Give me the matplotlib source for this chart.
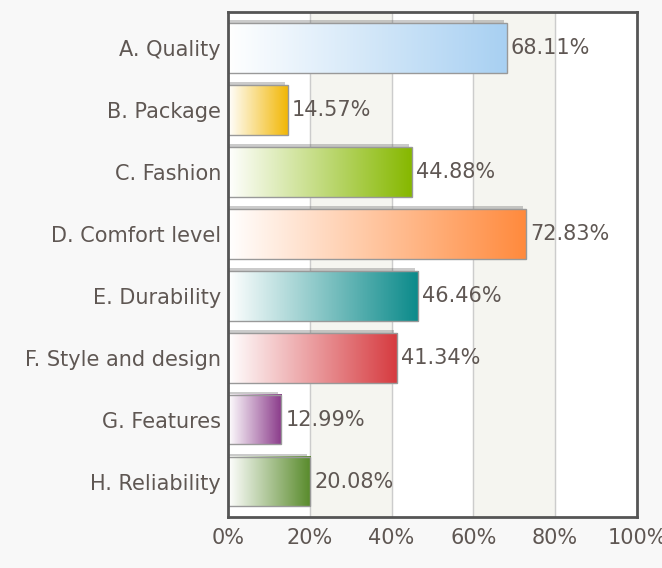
import numpy as np
import matplotlib
matplotlib.use("Agg")
import matplotlib.pyplot as plt
import matplotlib.patheffects as pe
from matplotlib.colors import LinearSegmentedColormap
from matplotlib.patches import Rectangle

# ---------------------------
# Data
# ---------------------------
categories = ["A. Quality", "B. Package", "C. Fashion", "D. Comfort level",
              "E. Durability", "F. Style and design", "G. Features", "H. Reliability"]
values = [68.11, 14.57, 44.88, 72.83, 46.46, 41.34, 12.99, 20.08]
end_colors = ["#a8d0f2", "#f2b705", "#86b800", "#ff8a3d",
              "#0a8a8a", "#d63a3f", "#8a3a8a", "#588a2a"]
xticks = [0, 20, 40, 60, 80, 100]

text_color = "#5f5753"
fsize = 15
bar_h = 0.8

# ---------------------------
# Figure
# ---------------------------
fig = plt.figure(figsize=(6.62, 5.68), dpi=100, facecolor="#f8f8f8")
ax = fig.add_axes([0.3444, 0.0898, 0.6178, 0.8891])
ax.set_facecolor("white")

# alternating bands + grid
for x0 in (20, 60):
    ax.axvspan(x0, x0 + 20, color="#f5f5f0", zorder=0)
for x in xticks[1:-1]:
    ax.axvline(x, color="#cccccc", lw=1, zorder=1)

gradient = np.linspace(0, 1, 256).reshape(1, -1)
for i, (v, c) in enumerate(zip(values, end_colors)):
    cmap = LinearSegmentedColormap.from_list(f"g{i}", ["#ffffff", c])
    # shadow
    shadow = Rectangle((0, i - bar_h / 2), v, bar_h, facecolor="white",
                       edgecolor="none", zorder=2)
    shadow.set_path_effects([pe.SimplePatchShadow(offset=(-2, 2),
                                                  shadow_rgbFace="#555555",
                                                  alpha=0.3)])
    ax.add_patch(shadow)
    ax.imshow(gradient, cmap=cmap, aspect="auto", zorder=3,
              extent=(0, v, i + bar_h / 2, i - bar_h / 2),
              interpolation="bilinear")
    ax.add_patch(Rectangle((0, i - bar_h / 2), v, bar_h, facecolor="none",
                           edgecolor="#999999", lw=1, zorder=4))
    ax.annotate(f"{v:.2f}%", xy=(v, i), xytext=(3, 0), textcoords="offset points",
                va="center", ha="left", fontsize=fsize, color=text_color, zorder=5)

ax.set_xlim(0, 100)
ax.set_ylim(7.57, -0.58)
ax.set_xticks(xticks)
ax.set_xticklabels([f"{x}%" for x in xticks], fontsize=fsize, color=text_color)
ax.set_yticks(range(len(categories)))
ax.set_yticklabels(categories, fontsize=fsize, color=text_color)
ax.tick_params(axis="y", length=0, pad=5)
ax.tick_params(axis="x", length=0, pad=8)

for s in ax.spines.values():
    s.set_color("#555555")
    s.set_linewidth(2)
    s.set_zorder(6)

plt.savefig("out.png", dpi=100, facecolor=fig.get_facecolor())
